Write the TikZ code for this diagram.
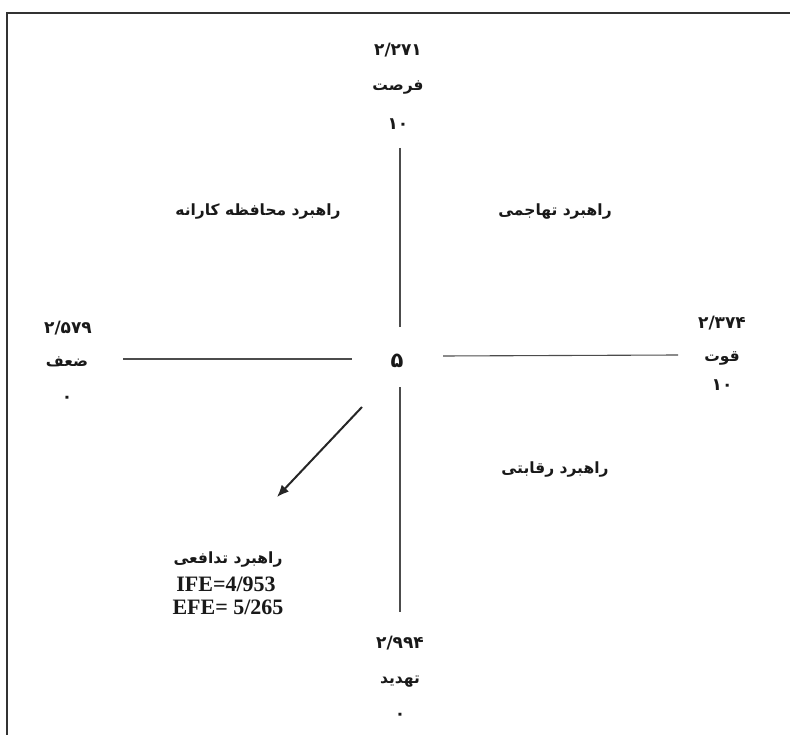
\documentclass[tikz,border=0pt]{standalone}
\usepackage{fontspec}
\usetikzlibrary{arrows.meta}
\setmainfont{Liberation Serif}
\newfontfamily\fa[Script=Arabic]{DejaVu Sans}
\TeXXeTstate=1
\begin{document}
\begin{tikzpicture}[x=1pt,y=-1pt,
  fatxt/.style={font=\fa\bfseries\fontsize{15.5}{18}\selectfont, inner sep=1pt, text=black!90},
  numtxt/.style={font=\fa\bfseries\fontsize{17}{19}\selectfont, inner sep=1pt, text=black!90},
  lattxt/.style={font=\bfseries\fontsize{22}{24}\selectfont, inner sep=1pt, text=black!90},
  axis/.style={draw=black!70, line width=1.1pt},
  frame/.style={draw=black!80, line width=2pt}]
\useasboundingbox (0,0) rectangle (790,735);
% frame (only top and left visible)
\coordinate (fTR) at (790,13);
\coordinate (fTL) at (7,13);
\coordinate (fBL) at (7,735);
\draw[frame] (fTR) -- (fTL) -- (fBL);
% axis ends
\coordinate (vt1) at (400,148);
\coordinate (vt2) at (400,327);
\coordinate (vb1) at (400,387);
\coordinate (vb2) at (400,612);
\coordinate (hl1) at (123,359);
\coordinate (hl2) at (352,359);
\coordinate (hr1) at (443,356);
\coordinate (hr2) at (678,355);
\draw[axis] (vt1) -- (vt2);
\draw[axis] (vb1) -- (vb2);
\draw[axis] (hl1) -- (hl2);
\draw[axis] (hr1) -- (hr2);
% center
\node[numtxt, font=\fa\bfseries\fontsize{21}{23}\selectfont] (c) at (397,361) {۵};
% top
\node[numtxt] (t1) at (398,50) {۲/۲۷۱};
\node[fatxt] (t2) at (398,88) {\beginR فرصت\endR};
\node[numtxt] (t3) at (398,124) {۱۰};
% left
\node[numtxt] (l1) at (68,328) {۲/۵۷۹};
\node[fatxt] (l2) at (67,362) {\beginR ضعف\endR};
\node[numtxt] (l3) at (67,399) {۰};
% right
\node[numtxt] (r1) at (722,323) {۲/۳۷۴};
\node[fatxt] (r2) at (722,358) {\beginR قوت\endR};
\node[numtxt] (r3) at (722,385) {۱۰};
% bottom
\node[numtxt] (b1) at (400,643) {۲/۹۹۴};
\node[fatxt] (b2) at (400,682) {\beginR تهدید\endR};
\node[numtxt] (b3) at (400,716) {۰};
% quadrants
\node[fatxt] (q1) at (258,212) {\beginR راهبرد محافظه کارانه\endR};
\node[fatxt] (q2) at (555,212) {\beginR راهبرد تهاجمی\endR};
\node[fatxt] (q3) at (555,470) {\beginR راهبرد رقابتی\endR};
\node[fatxt] (q4) at (228,560) {\beginR راهبرد تدافعی\endR};
\node[lattxt] (ife) at (226,584) {IFE=4/953};
\node[lattxt] (efe) at (228,607) {EFE= 5/265};
% arrow
\coordinate (a1) at (362,407);
\coordinate (a2) at (277,497);
\draw[draw=black!85, line width=2pt, -{Latex[length=12pt,width=10pt]}] (a1) -- (a2);
\end{tikzpicture}
\end{document}
